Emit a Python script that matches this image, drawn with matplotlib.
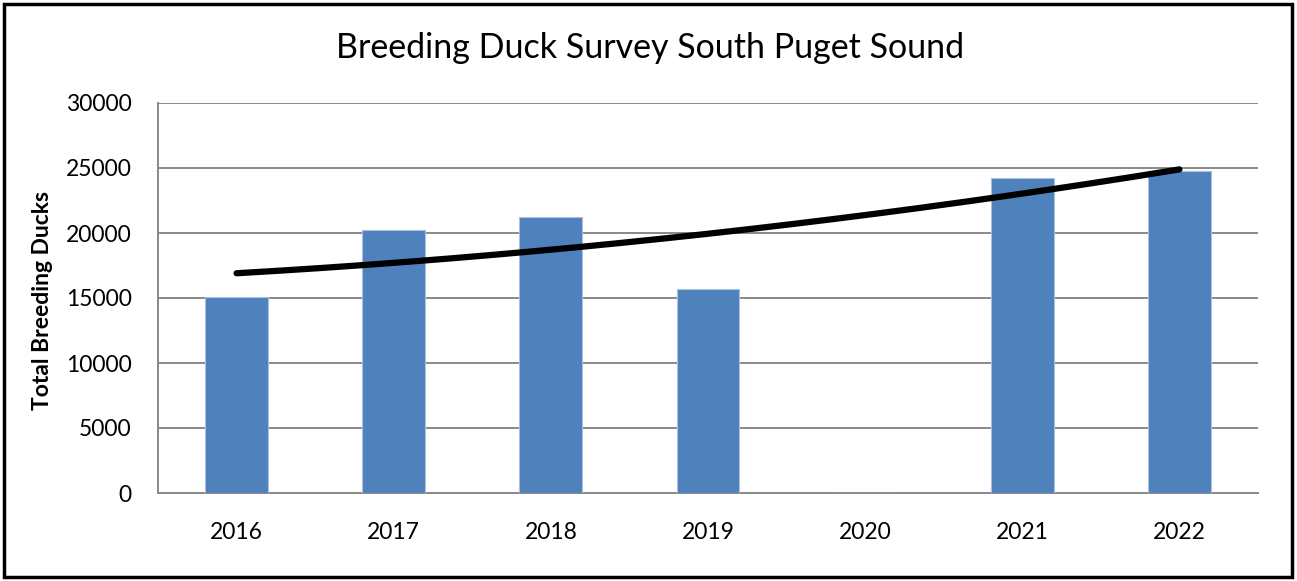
import numpy as np
import matplotlib
matplotlib.use("Agg")
import matplotlib.pyplot as plt
from matplotlib.patches import Rectangle

years = ["2016", "2017", "2018", "2019", "2020", "2021", "2022"]
ducks = [15100, 20200, 21200, 15670, np.nan, 24250, 24770]
y_ticks = [0, 5000, 10000, 15000, 20000, 25000, 30000]

title = "Breeding Duck Survey South Puget Sound"
ylabel = "Total Breeding Ducks"

plt.rcParams["font.family"] = ["Lato", "DejaVu Sans"]

fig = plt.figure(figsize=(12.97, 5.81), dpi=100)
ax = fig.add_axes([158/1297, 1-493/581, 1100/1297, 390/581])

x = np.arange(len(years))
vals = np.array(ducks, dtype=float)
ax.bar(x, np.nan_to_num(vals), width=0.4, color="#4F81BD", edgecolor="#A9C1DF",
       linewidth=0.8, zorder=3)

# polynomial (order 2) trendline fitted on available data (Excel category x = 1..7)
mask = ~np.isnan(vals)
coef = np.polyfit(x[mask] + 1, vals[mask], 2)
xs = np.linspace(1, len(years), 200)
ax.plot(xs - 1, np.polyval(coef, xs), color="black", lw=4.5,
        solid_capstyle="round", zorder=4)

ax.set_xlim(-0.5, len(years) - 0.5)
ax.set_ylim(0, 30000)
ax.set_yticks(y_ticks)
ax.set_yticklabels([str(v) for v in y_ticks])
ax.set_xticks(x)
ax.set_xticklabels(years)
ax.tick_params(axis="both", length=0, labelsize=16.5, colors="black")
ax.tick_params(axis="y", pad=19)
ax.tick_params(axis="x", pad=21)

ax.grid(axis="y", color="#898989", lw=1.4, zorder=0)
for s in ["top", "right"]:
    ax.spines[s].set_visible(False)
for s in ["left", "bottom"]:
    ax.spines[s].set_color("#898989")
    ax.spines[s].set_linewidth(1.4)

fig.text(650/1297, 1-48/581, title, ha="center", va="center", fontsize=24.5)
fig.text(43/1297, 1-301/581, ylabel, ha="center", va="center", rotation=90,
         fontsize=16.5, fontweight="bold")

fig.patches.append(Rectangle((4/1297, 4/581), 1288/1297, 573/581,
                             transform=fig.transFigure, fill=False,
                             edgecolor="black", lw=2.5, zorder=10))

fig.savefig("out.png", dpi=100)
